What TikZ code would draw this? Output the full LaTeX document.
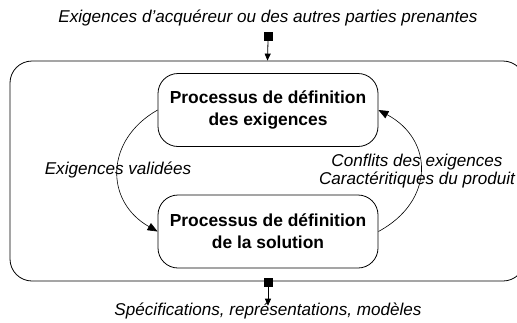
\documentclass[tikz,border=0pt]{standalone}
\usepackage{fontspec}
\setmainfont{Liberation Sans}
\usetikzlibrary{arrows.meta}

\begin{document}
\begin{tikzpicture}[x=1pt, y=-1pt,
    proc/.style={draw, rounded corners=20pt, line width=0.8pt, minimum width=220pt,
                 minimum height=73pt, align=center, font=\fontsize{17.4}{22}\selectfont\bfseries},
    lbl/.style={font=\fontsize{17.1}{18.5}\selectfont\itshape, align=center, inner sep=0pt},
    port/.style={fill=black, minimum size=9pt, inner sep=0pt},
    flow/.style={-{Triangle[length=10pt, width=8pt]}, line width=0.6pt},
    io/.style={-{Triangle[length=7pt, width=6pt]}, line width=0.8pt}]
    \path[clip, use as bounding box] (0,0) rectangle (517,322);

    % Frame
    \node[draw, rounded corners=22pt, line width=0.8pt, minimum width=515pt,
          minimum height=220pt] (frame) at (267.5,171) {};

    % Processes
    \node[proc] (req) at (268,110) {Processus de définition\\des exigences};
    \node[proc] (sol) at (268,231.5) {Processus de définition\\de la solution};

    % Input / output
    \node[lbl] (in) at (268,18) {Exigences d’acquéreur ou des autres parties prenantes};
    \node[port] (inp) at (268,36) {};
    \node[port] (outp) at (268,282) {};
    \node[lbl] (out) at (268,311) {Spécifications, représentations, modèles};

    % Labels
    \node[lbl] (val) at (118,170) {Exigences validées};
    \node[lbl] (conf) at (417,171) {Conflits des exigences\\Caractéritiques du produit};

    % Arrows
    \draw[io] (inp.south) -- (frame.north);
    \draw[io] (outp.south) -- ([yshift=-3pt]out.north);
    \draw[flow] (req.west) .. controls +(-53,30) and +(-53,-30) .. (sol.west);
    \draw[flow] (sol.east) .. controls +(56,-30) and +(56,30) .. (req.east);
\end{tikzpicture}
\end{document}
